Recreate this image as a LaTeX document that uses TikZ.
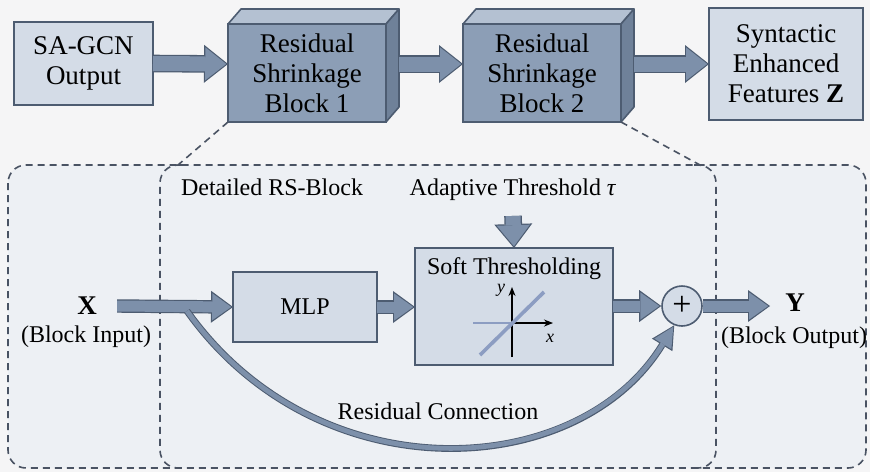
\documentclass[tikz,border=0pt]{standalone}
\usepackage{fontspec}
\setmainfont{Liberation Serif}
\usetikzlibrary{arrows.meta}

\definecolor{pagebg}{HTML}{F5F5F6}
\definecolor{regionbg}{HTML}{EDF0F4}
\definecolor{boxfill}{HTML}{D4DCE7}
\definecolor{frontc}{HTML}{8C9EB6}
\definecolor{topc}{HTML}{B4C1D2}
\definecolor{sidec}{HTML}{6F8199}
\definecolor{edgec}{HTML}{4D5C71}
\definecolor{arrowc}{HTML}{7D90AA}
\definecolor{dashc}{HTML}{4A5363}
\definecolor{curvec}{HTML}{8C9DC2}

\newcommand\toptext{\fontsize{13.5}{15}\selectfont}
\newcommand\lowtext{\fontsize{12}{14.5}\selectfont}

\begin{document}
\begin{tikzpicture}[x=0.5pt,y=-0.5pt,
	lightbox/.style={draw=edgec, line width=0.8pt, fill=boxfill, align=center, inner sep=0pt, outer sep=0pt},
	rsblock/.style={draw=edgec, line width=0.8pt, fill=frontc, align=center, minimum width=79pt, minimum height=49pt, inner sep=0pt, outer sep=0pt, font=\toptext},
	region/.style={draw=dashc, line width=0.8pt, dash pattern=on 3.5pt off 2.5pt, rounded corners=9pt},
	fatarrow/.style={draw=arrowc, line width=7.5pt, shorten >=0.9pt, -{Triangle[length=10.5pt,width=16.5pt,line width=0pt]},
		preaction={draw=edgec, line width=8.8pt, shorten >=0pt, -{Triangle[length=12pt,width=19pt,line width=0pt]}}},
	smallarrow/.style={draw=arrowc, line width=5.5pt, shorten >=0.9pt, -{Triangle[length=9.5pt,width=13.5pt,line width=0pt]},
		preaction={draw=edgec, line width=6.7pt, shorten >=0pt, -{Triangle[length=11pt,width=16pt,line width=0pt]}}},
	curvearrow/.style={draw=arrowc, line width=2.4pt, shorten >=0.9pt, -{Triangle[length=10pt,width=10pt,line width=0pt]},
		preaction={draw=edgec, line width=3.4pt, shorten >=0pt, -{Triangle[length=11.5pt,width=12pt,line width=0pt]}}},
	axisline/.style={black, line width=0.7pt, -{Stealth[length=4.5pt,width=3.5pt]}}
	]
	\useasboundingbox (0,0) rectangle (870,472);
	\fill[pagebg] (0,0) rectangle (870,472);

	% lower panel
	\draw[region, fill=regionbg] (8,165) rectangle (866,468);
	\draw[region] (182,165) -- (160,165) -- (160,468) -- (182,468);
	\draw[region] (694,165) -- (716,165) -- (716,468) -- (694,468);
	\coordinate (zoomleft) at (178,165);
	\coordinate (zoomright) at (700,165);

	% top row
	\node[lightbox, minimum width=69.5pt, minimum height=41.5pt, font=\toptext] (sagcn) at (83.5,63.5) {SA-GCN\\Output};

	\node[rsblock] (rsb1) at (307,73) {Residual\\Shrinkage\\Block 1};
	\filldraw[fill=topc, draw=edgec, line width=0.8pt, line join=round] (rsb1.north west) -- ++(13,-15) -- ++(158,0) -- (rsb1.north east) -- cycle;
	\filldraw[fill=sidec, draw=edgec, line width=0.8pt, line join=round] (rsb1.north east) -- ++(13,-15) -- ++(0,98) -- (rsb1.south east) -- cycle;

	\node[rsblock] (rsb2) at (542,73) {Residual\\Shrinkage\\Block 2};
	\filldraw[fill=topc, draw=edgec, line width=0.8pt, line join=round] (rsb2.north west) -- ++(13,-15) -- ++(158,0) -- (rsb2.north east) -- cycle;
	\filldraw[fill=sidec, draw=edgec, line width=0.8pt, line join=round] (rsb2.north east) -- ++(13,-15) -- ++(0,98) -- (rsb2.south east) -- cycle;

	\node[lightbox, minimum width=77pt, minimum height=56pt, font=\toptext] (synz) at (786,64) {Syntactic\\Enhanced\\Features \textbf{Z}};

	\draw[fatarrow] (sagcn.east) -- ([yshift=4.5pt]rsb1.west);
	\draw[fatarrow] ([xshift=6.5pt,yshift=4.5pt]rsb1.east) -- ([yshift=4.5pt]rsb2.west);
	\draw[fatarrow] ([xshift=6.5pt,yshift=4.5pt]rsb2.east) -- (synz.west);

	\draw[dashc, line width=0.8pt, dash pattern=on 3.5pt off 2.5pt] (rsb1.south west) -- (zoomleft);
	\draw[dashc, line width=0.8pt, dash pattern=on 3.5pt off 2.5pt] (rsb2.south east) -- (zoomright);

	% detailed block
	\node[font=\lowtext] (detail) at (272,187) {Detailed RS-Block};
	\node[font=\lowtext] (thr) at (513,190) {Adaptive Threshold \textit{τ}};

	\node[font=\toptext, inner sep=3pt] (xlab) at (87,306) {\textbf{X}};
	\node[font=\lowtext] (xdesc) at (86,337) {(Block Input)};
	\node[lightbox, minimum width=72pt, minimum height=35pt, font=\lowtext] (mlp) at (305,307) {MLP};
	\node[lightbox, minimum width=99pt, minimum height=58.5pt] (soft) at (514,306.5) {};
	\node[font=\lowtext] (softlbl) at (514,269) {Soft Thresholding};
	\node[circle, draw=edgec, line width=0.8pt, fill=boxfill, minimum size=20pt, inner sep=0pt, font=\fontsize{17}{17}\selectfont] (plus) at (682,306) {+};
	\node[font=\toptext, inner sep=3pt] (ylab) at (795,303) {\textbf{Y}};
	\node[font=\lowtext] (ydesc) at (794,338) {(Block Output)};
	\node[font=\lowtext] (reslbl) at (438,411) {Residual Connection};
	\coordinate (yend) at (770,306);
	\coordinate (rstart) at (187,311);

	% soft threshold curve
	\draw[axisline] (473,323) -- (553,323);
	\draw[axisline] (512,357) -- (512,287);
	\draw[curvec, line width=1pt] (473,323) -- (512,323);
	\draw[curvec, line width=1.8pt] (480,355) -- (544,292);
	\node[font=\fontsize{9}{9}\selectfont, inner sep=1pt] (ylbl) at (501,290) {\textit{y}};
	\node[font=\fontsize{9}{9}\selectfont, inner sep=1pt] (xlbl) at (550,338) {\textit{x}};

	\draw[smallarrow] (xlab.east) ++(7pt,0) -- (mlp.west);
	\draw[smallarrow] (mlp.west -| mlp.east) -- (soft.west |- mlp.east);
	\draw[fatarrow] ([yshift=-4pt]thr.south) -- (soft.north);
	\draw[smallarrow] (soft.east |- plus.west) -- (plus.west);
	\draw[smallarrow] (plus.east) -- (yend);
	\draw[curvearrow] (rstart) .. controls (318,495) and (578,482) .. (plus.-112);
\end{tikzpicture}
\end{document}
